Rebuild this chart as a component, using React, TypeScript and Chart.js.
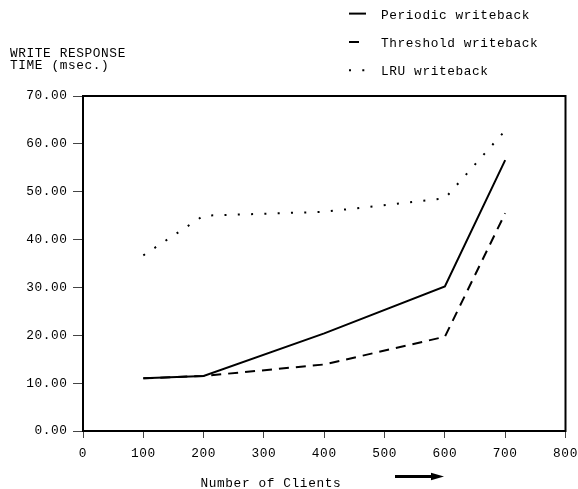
import React, { useEffect, useRef } from "react";
import { Chart, registerables } from "chart.js";

Chart.register(...registerables);

// ---- data ----
const clients = [100, 200, 400, 600, 700];
const periodic = [11.0, 11.5, 20.4, 30.2, 56.6];
const threshold = [11.0, 11.5, 13.9, 19.7, 45.5];
const lru = [36.7, 45.0, 45.8, 48.6, 62.8];
const seriesLabels = ["Periodic writeback", "Threshold writeback", "LRU writeback"];
const xTickValues = [0, 100, 200, 300, 400, 500, 600, 700, 800];
const yTickValues = [0, 10, 20, 30, 40, 50, 60, 70];
const yTitleLines = ["WRITE RESPONSE", "TIME (msec.)"];
const xTitle = "Number of Clients";

const FONT_FAMILY = "'Liberation Mono', 'DejaVu Sans Mono', monospace";
const FONT_SIZE = 12.8;
const LETTER_SPACING = "0.6px";
const FONT = `${FONT_SIZE}px ${FONT_FAMILY}`;

const legendRows = [15.3, 43.7, 72];

const decorPlugin = {
  id: "decor",
  beforeDraw(chart: any) {
    (chart.ctx as any).letterSpacing = LETTER_SPACING;
  },
  afterDraw(chart: any) {
    const ctx = chart.ctx as CanvasRenderingContext2D;
    const a = chart.chartArea;
    ctx.save();
    (ctx as any).letterSpacing = LETTER_SPACING;
    // frame
    ctx.strokeStyle = "#000";
    ctx.lineWidth = 2;
    ctx.setLineDash([]);
    ctx.strokeRect(a.left, a.top, a.right - a.left, a.bottom - a.top);

    // legend
    ctx.font = FONT;
    ctx.fillStyle = "#000";
    ctx.textAlign = "left";
    ctx.textBaseline = "middle";
    chart.data.datasets.forEach((ds: any, i: number) => {
      const y = legendRows[i];
      ctx.beginPath();
      ctx.lineWidth = 2;
      ctx.lineCap = "butt";
      ctx.setLineDash(ds.borderDash || []);
      ctx.moveTo(349, y - 1.7);
      ctx.lineTo(366, y - 1.7);
      ctx.stroke();
      ctx.setLineDash([]);
      ctx.fillText(ds.label, 381, y);
    });

    // y title
    yTitleLines.forEach((t, i) => {
      ctx.fillText(t, 10, 54 + i * 12);
    });

    // x title
    ctx.fillText(xTitle, 200.5, 483.5);

    // arrow
    ctx.beginPath();
    ctx.lineWidth = 3.2;
    ctx.moveTo(395, 476.5);
    ctx.lineTo(433, 476.5);
    ctx.stroke();
    ctx.beginPath();
    ctx.moveTo(431, 472.8);
    ctx.lineTo(444, 476.5);
    ctx.lineTo(431, 480.2);
    ctx.closePath();
    ctx.fill();
    ctx.restore();
  },
};

export default function App() {
  const ref = useRef<HTMLCanvasElement | null>(null);

  useEffect(() => {
    document.body.style.margin = "0";
    const canvas = ref.current;
    if (!canvas) return;
    const mk = (vals: number[]) => clients.map((c, i) => ({ x: c, y: vals[i] }));
    const chart = new Chart(canvas, {
      type: "line",
      data: {
        datasets: [
          {
            label: seriesLabels[0],
            data: mk(periodic),
            borderColor: "#000",
            borderWidth: 2,
            borderDash: [],
            pointRadius: 0,
            tension: 0,
            fill: false,
          },
          {
            label: seriesLabels[1],
            data: mk(threshold),
            borderColor: "#000",
            borderWidth: 2,
            borderDash: [10, 7],
            pointRadius: 0,
            tension: 0,
            fill: false,
          },
          {
            label: seriesLabels[2],
            data: mk(lru),
            borderColor: "#000",
            borderWidth: 2,
            borderDash: [2, 11.3],
            pointRadius: 0,
            tension: 0,
            fill: false,
          },
        ],
      },
      options: {
        animation: false,
        responsive: false,
        devicePixelRatio: 1,
        layout: { padding: { top: 96, right: 12.5, bottom: 0, left: 0 } },
        plugins: {
          legend: { display: false },
          title: { display: false },
          tooltip: { enabled: false },
        },
        scales: {
          x: {
            type: "linear",
            min: 0,
            max: 800,
            afterFit: (s: any) => {
              s.height = 58;
              s.paddingLeft = 0;
              s.paddingRight = 0;
              s.paddingTop = 0;
              s.paddingBottom = 0;
            },
            afterBuildTicks: (s: any) => {
              s.ticks = xTickValues.map((v) => ({ value: v }));
            },
            ticks: {
              font: { family: FONT_FAMILY, size: FONT_SIZE },
              color: "#000",
              padding: 7.8,
              maxRotation: 0,
              autoSkip: false,
              callback: (v: any) => String(v),
            },
            grid: {
              drawOnChartArea: false,
              drawTicks: true,
              tickLength: 7,
              color: "#444",
              lineWidth: 1,
            },
            border: { display: false },
          },
          y: {
            type: "linear",
            min: 0,
            max: 70,
            afterFit: (s: any) => {
              s.width = 83;
              s.paddingTop = 0;
              s.paddingBottom = 0;
              s.paddingLeft = 0;
              s.paddingRight = 0;
            },
            afterBuildTicks: (s: any) => {
              s.ticks = yTickValues.map((v) => ({ value: v }));
            },
            ticks: {
              font: { family: FONT_FAMILY, size: FONT_SIZE },
              color: "#000",
              padding: 5.4,
              autoSkip: false,
              callback: (v: any) => Number(v).toFixed(2),
            },
            grid: {
              drawOnChartArea: false,
              drawTicks: true,
              tickLength: 10,
              color: "#444",
              lineWidth: 1,
            },
            border: { display: false },
          },
        },
      },
      plugins: [decorPlugin],
    } as any);
    return () => chart.destroy();
  }, []);

  return (
    <div style={{ width: 578, height: 489 }}>
      <canvas ref={ref} width={578} height={489} style={{ display: "block" }} />
    </div>
  );
}
